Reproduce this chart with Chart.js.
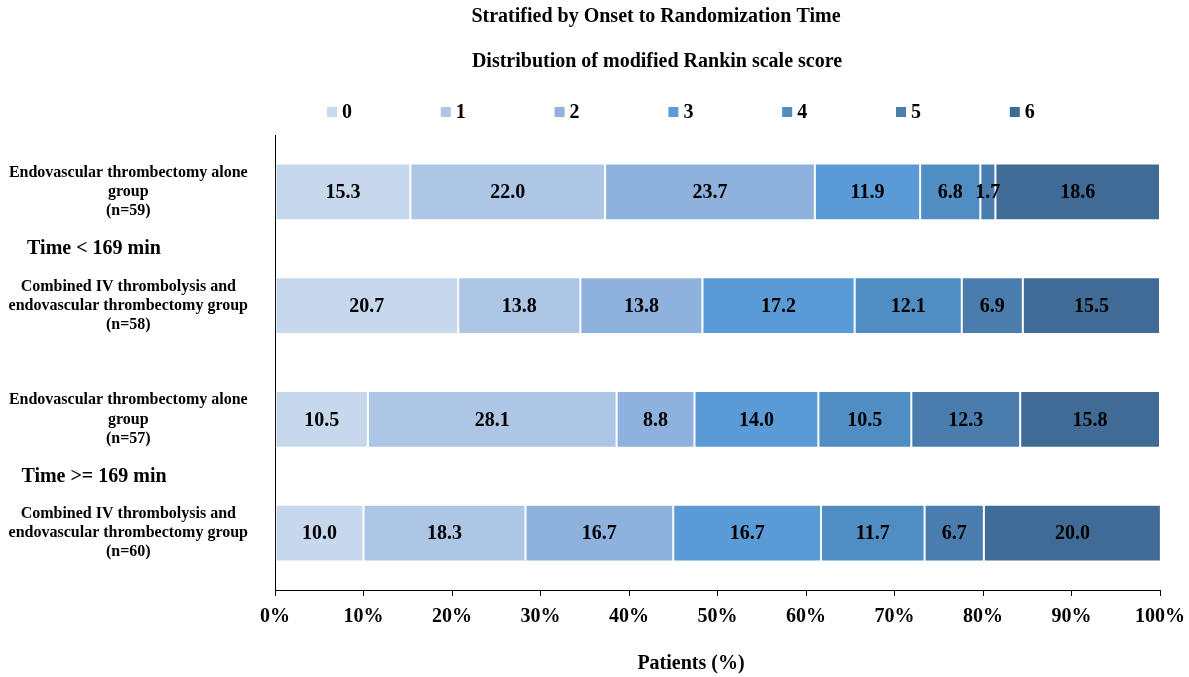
<!DOCTYPE html>
<html><head><meta charset="utf-8">
<script src="https://cdn.jsdelivr.net/npm/chart.js@4.4.1/dist/chart.umd.min.js"></script>
<style>html,body{margin:0;padding:0;background:#fff}#wrap{width:1189px;height:677px;position:relative}</style>
</head><body><div id="wrap"><canvas id="c"></canvas></div>
<script>
const categories = [
  ["Endovascular thrombectomy alone", "group", "(n=59)"],
  ["Combined IV thrombolysis and", "endovascular thrombectomy group", "(n=58)"],
  ["Endovascular thrombectomy alone", "group", "(n=57)"],
  ["Combined IV thrombolysis and", "endovascular thrombectomy group", "(n=60)"]
];
const scoreLabels = ["0", "1", "2", "3", "4", "5", "6"];
const mrs0 = [15.3, 20.7, 10.5, 10.0];
const mrs1 = [22.0, 13.8, 28.1, 18.3];
const mrs2 = [23.7, 13.8, 8.8, 16.7];
const mrs3 = [11.9, 17.2, 14.0, 16.7];
const mrs4 = [6.8, 12.1, 10.5, 11.7];
const mrs5 = [1.7, 6.9, 12.3, 6.7];
const mrs6 = [18.6, 15.5, 15.8, 20.0];
const xTickValues = [0, 10, 20, 30, 40, 50, 60, 70, 80, 90, 100];
const strataLabels = ["Time < 169 min", "Time >= 169 min"];
const titleText = "Stratified by Onset to Randomization Time";
const subtitleText = "Distribution of modified Rankin scale score";
const xAxisTitle = "Patients (%)";

const colors = ["#C7D8ED", "#AEC6E6", "#8EB2DD", "#5B9BD5", "#508DC3", "#4A7DAE", "#3F6B96"];
const seriesValues = [mrs0, mrs1, mrs2, mrs3, mrs4, mrs5, mrs6];
const FONT = "'Liberation Serif', 'Times New Roman', serif";

const datasets = seriesValues.map((vals, i) => ({
  label: scoreLabels[i],
  data: vals,
  backgroundColor: colors[i],
  borderColor: "rgba(255,255,255,0.3)",
  borderWidth: 1,
  borderSkipped: false,
  barPercentage: 0.5,
  categoryPercentage: 1.0
}));

const textPlugin = {
  id: "texts",
  afterDatasetsDraw(chart) {
    const ctx = chart.ctx;
    ctx.save();
    ctx.fillStyle = "#000";
    ctx.textAlign = "center";
    ctx.textBaseline = "middle";
    ctx.font = "bold 20px " + FONT;
    chart.data.datasets.forEach((ds, di) => {
      const meta = chart.getDatasetMeta(di);
      meta.data.forEach((bar, j) => {
        const v = ds.data[j];
        ctx.fillText(v.toFixed(1), (bar.x + bar.base) / 2, bar.y + 1);
      });
    });
    ctx.restore();
  },
  afterDraw(chart) {
    const ctx = chart.ctx;
    ctx.save();
    ctx.fillStyle = "#000";
    ctx.textBaseline = "middle";
    ctx.textAlign = "center";
    ctx.font = "bold 20px " + FONT;
    ctx.fillText(titleText, 656, 17);
    ctx.fillText(subtitleText, 657, 62);
    chart.data.datasets.forEach((ds, i) => {
      const x0 = 327 + i * 113.8;
      ctx.fillStyle = ds.backgroundColor;
      ctx.fillRect(x0, 107, 10, 10);
      ctx.fillStyle = "#000";
      ctx.textAlign = "left";
      ctx.fillText(ds.label, x0 + 15, 113);
    });
    const ys = chart.scales.y;
    ctx.textAlign = "center";
    ctx.fillText(strataLabels[0], 94, (ys.getPixelForValue(0) + ys.getPixelForValue(1)) / 2);
    ctx.fillText(strataLabels[1], 94, (ys.getPixelForValue(2) + ys.getPixelForValue(3)) / 2 + 1);
    ctx.fillText(xAxisTitle, 691, 664);
    ctx.restore();
  }
};

new Chart(document.getElementById("c"), {
  type: "bar",
  data: { labels: categories, datasets },
  options: {
    indexAxis: "y",
    responsive: true,
    maintainAspectRatio: false,
    animation: false,
    events: [],
    layout: { padding: { top: 135, left: 0, right: 29, bottom: 22 } },
    plugins: { legend: { display: false }, tooltip: { enabled: false }, title: { display: false } },
    scales: {
      x: {
        stacked: true,
        min: 0, max: 100,
        afterBuildTicks(scale) { scale.ticks = xTickValues.map(v => ({ value: v })); },
        afterFit(scale) {
          scale.height = 65;
          scale.paddingLeft = 0; scale.paddingRight = 0;
          scale.paddingTop = 0; scale.paddingBottom = 0;
        },
        ticks: {
          callback: v => v + "%",
          color: "#000",
          font: { family: FONT, size: 20, weight: "bold" },
          padding: 9,
          maxRotation: 0,
          autoSkip: false
        },
        grid: { drawOnChartArea: false, drawTicks: true, tickLength: 6, color: "#000" },
        border: { display: true, color: "#000", width: 1 }
      },
      y: {
        stacked: true,
        afterFit(scale) {
          scale.width = 275;
          scale.paddingTop = 0; scale.paddingBottom = 0;
        },
        ticks: {
          color: "#000",
          crossAlign: "center",
          padding: 27,
          font: { family: FONT, size: 16, weight: "bold", lineHeight: 1.2 }
        },
        grid: { display: false, drawTicks: false },
        border: { display: true, color: "#000", width: 1 }
      }
    }
  },
  plugins: [textPlugin]
});
</script>
</body></html>
